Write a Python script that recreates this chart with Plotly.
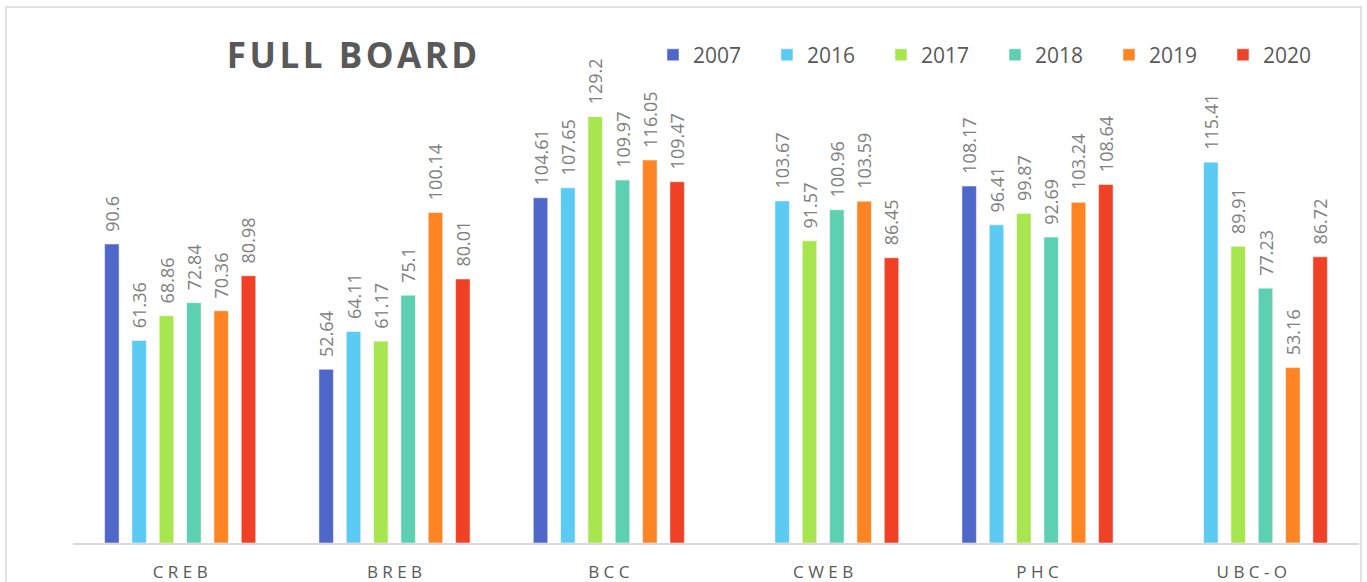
import plotly.graph_objects as go

categories = ["CREB", "BREB", "BCC", "CWEB", "PHC", "UBC-O"]
years = ["2007", "2016", "2017", "2018", "2019", "2020"]

v2007 = [90.6, 52.64, 104.61, None, 108.17, None]
v2016 = [61.36, 64.11, 107.65, 103.67, 96.41, 115.41]
v2017 = [68.86, 61.17, 129.2, 91.57, 99.87, 89.91]
v2018 = [72.84, 75.1, 109.97, 100.96, 92.69, 77.23]
v2019 = [70.36, 100.14, 116.05, 103.59, 103.24, 53.16]
v2020 = [80.98, 80.01, 109.47, 86.45, 108.64, 86.72]

colors = ["#4F67C8", "#5BCBF3", "#A8E64F", "#5ED0B2", "#FF8424", "#F04126"]

tick_labels = [" ".join(c) for c in categories]
title_text = "\u200a".join("FULL BOARD")

fig = go.Figure()
for year, vals, col in zip(years, [v2007, v2016, v2017, v2018, v2019, v2020], colors):
    fig.add_trace(go.Bar(
        x=categories,
        y=vals,
        name=year,
        marker_color=col,
        marker_line_color="white",
        marker_line_width=0.5,
        text=["" if v is None else "\u00a0\u00a0" + str(v) for v in vals],
        textposition="outside",
        textangle=-90,
        constraintext="none",
        textfont=dict(family="Open Sans", size=18, color="#808080"),
        cliponaxis=False,
    ))

fig.update_layout(
    width=1367, height=582,
    margin=dict(l=73, r=8, t=81, b=39, autoexpand=False),
    paper_bgcolor="white", plot_bgcolor="white",
    barmode="group", bargap=0.235, bargroupgap=0.47,
    title=dict(
        text="<b>" + title_text + "</b>",
        font=dict(family="Open Sans", size=35, color="#595959"),
        x=352 / 1367, xref="container", xanchor="center",
        y=1 - 56 / 582, yref="container", yanchor="middle",
    ),
    legend=dict(
        orientation="h", x=0.451, xanchor="left", y=1.056, yanchor="middle",
        font=dict(family="Open Sans", size=21, color="#595959"),
        entrywidth=69, entrywidthmode="pixels",
        traceorder="normal",
        bgcolor="rgba(0,0,0,0)",
    ),
    showlegend=True,
)

fig.update_xaxes(
    tickvals=categories, ticktext=tick_labels,
    tickfont=dict(family="Open Sans", size=17, color="#595959"),
    showline=True, linecolor="#D9D9D9", linewidth=1.5,
    ticks="outside", ticklen=13, tickcolor="rgba(0,0,0,0)",
    showgrid=False, zeroline=False, fixedrange=True,
)
fig.update_yaxes(
    range=[0, 140], visible=False, showgrid=False, zeroline=False,
)

fig.add_shape(
    type="rect", xref="paper", yref="paper",
    x0=(6 - 73) / 1286, x1=(1361 - 73) / 1286,
    y0=-0.5, y1=(543 - 7) / 462,
    line=dict(color="#D9D9D9", width=1.5), fillcolor="rgba(0,0,0,0)",
    layer="below",
)

fig.write_html(
    "out.html",
    config={"displayModeBar": False},
    post_script="document.body.style.margin='0';",
)
